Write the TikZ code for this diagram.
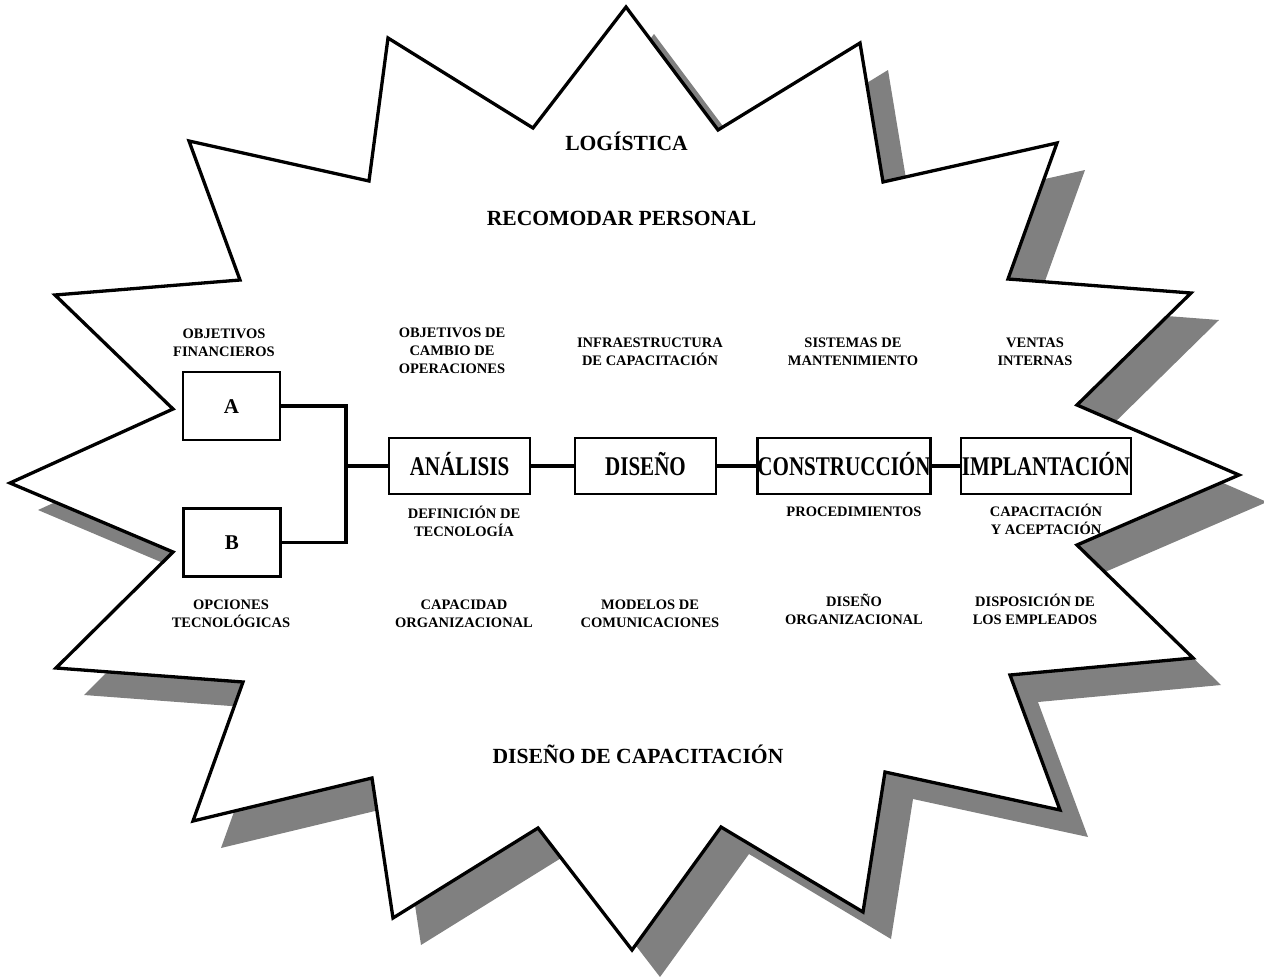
\documentclass[tikz,border=0pt]{standalone}
\usepackage{fontspec}
\setmainfont{Liberation Serif}
\newfontfamily\stagefont[FakeStretch=0.78]{Liberation Serif}
\usepackage{tikz}

\tikzset{
  starline/.style={draw=black, fill=white, line width=3.3pt, line join=miter},
  starshadow/.style={fill=black!50},
  stage/.style={draw, line width=2.8pt, minimum width=141pt, minimum height=56pt, inner sep=0pt,
    text height=18pt, text depth=0pt, font=\stagefont\bfseries\fontsize{27}{30}\selectfont},
  widestage/.style={stage, minimum width=170pt},
  option/.style={draw, line width=2.8pt, minimum width=97pt, minimum height=68pt, inner sep=0pt,
    text height=14pt, text depth=0pt, font=\bfseries\fontsize{21}{24}\selectfont},
  headline/.style={anchor=base, inner sep=0pt, font=\bfseries\fontsize{21.6}{24}\selectfont},
  note/.style={align=center, inner sep=0pt, font=\bfseries\fontsize{14.5}{18}\selectfont},
  link/.style={line width=3.2pt}
}

\begin{document}
\begin{tikzpicture}[x=1pt, y=-1pt]
  \useasboundingbox (0,0) rectangle (1264,977);

  % Define the vertices of the star, clockwise from the top
  \def\starpts{626/7, 718/130, 860/43, 883/182, 1057/143, 1008/279, 1191/293, 1077/405,
    1239/475, 1077/545, 1193/658, 1010/675, 1060/810, 885/772, 863/912, 721/827,
    632/950, 538/828, 393/918, 372/778, 193/821, 243/682, 56/668, 173/552,
    10/483, 173/409, 55/295, 240/280, 189/141, 369/181, 388/38, 533/128}
  \foreach \x/\y [count=\i] in \starpts {
    \coordinate (p\i) at (\x,\y);
    \coordinate (s\i) at (\x+28,\y+27);
  }

  % Draw the shadow and the star
  \fill[starshadow] (s1) \foreach \i in {2,...,32}{ -- (s\i)} -- cycle;
  \path[starline] (p1) \foreach \i in {2,...,32}{ -- (p\i)} -- cycle;

  % Headlines
  \node[headline] (logistica) at (626.5,150) {LOGÍSTICA};
  \node[headline] (recomodar) at (621.5,225) {RECOMODAR PERSONAL};
  \node[headline] (capdiseno) at (638,763) {DISEÑO DE CAPACITACIÓN};

  % Options and stages
  \node[option] (A) at (231.5,406) {A};
  \node[option] (B) at (232,542.5) {B};
  \node[stage] (analisis) at (459.5,466) {ANÁLISIS};
  \node[stage] (diseno) at (645.5,466) {DISEÑO};
  \node[widestage] (construccion) at (844,466) {CONSTRUCCIÓN};
  \node[widestage] (implantacion) at (1046,466) {IMPLANTACIÓN};

  % Connect them
  \coordinate (join) at (346,466);
  \draw[link] (A.east) -| (join);
  \draw[link] (B.east) -| (join);
  \draw[link] (join) -- (analisis.west);
  \draw[link] (analisis) -- (diseno);
  \draw[link] (diseno) -- (construccion);
  \draw[link] (construccion) -- (implantacion);

  % Notes round the stages
  \node[note] (finobj) at (224,343) {OBJETIVOS\\FINANCIEROS};
  \node[note] (opsobj) at (452,351) {OBJETIVOS DE\\CAMBIO DE\\OPERACIONES};
  \node[note] (infra) at (650,352) {INFRAESTRUCTURA\\DE CAPACITACIÓN};
  \node[note] (mant) at (853,352) {SISTEMAS DE\\MANTENIMIENTO};
  \node[note] (ventas) at (1035,352) {VENTAS\\INTERNAS};
  \node[note] (tecdef) at (464,521.5) {DEFINICIÓN DE\\TECNOLOGÍA};
  \node[note] (proc) at (854,512) {PROCEDIMIENTOS};
  \node[note] (acept) at (1046,519) {CAPACITACIÓN\\Y ACEPTACIÓN};
  \node[note] (tecop) at (231,614) {OPCIONES\\TECNOLÓGICAS};
  \node[note] (caporg) at (464,613.5) {CAPACIDAD\\ORGANIZACIONAL};
  \node[note] (comm) at (650,613.5) {MODELOS DE\\COMUNICACIONES};
  \node[note] (disorg) at (854,609) {DISEÑO\\ORGANIZACIONAL};
  \node[note] (emple) at (1035,609) {DISPOSICIÓN DE\\LOS EMPLEADOS};
\end{tikzpicture}
\end{document}
